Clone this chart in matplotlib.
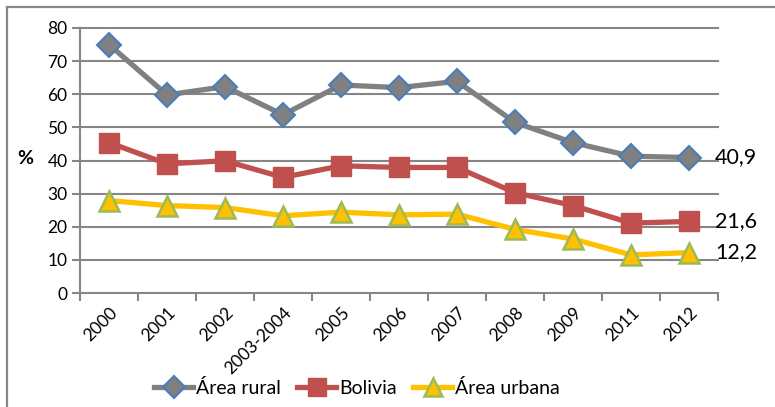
import matplotlib
matplotlib.use("Agg")
import matplotlib.pyplot as plt
from matplotlib.lines import Line2D

categories = ["2000", "2001", "2002", "2003-2004", "2005", "2006", "2007",
              "2008", "2009", "2011", "2012"]
rural = [75.0, 59.8, 62.3, 53.8, 62.8, 62.0, 63.9, 51.5, 45.4, 41.3, 40.9]
bolivia = [45.4, 39.0, 39.9, 34.9, 38.4, 37.9, 37.9, 30.3, 26.4, 21.1, 21.6]
urbana = [27.9, 26.4, 25.8, 23.3, 24.4, 23.6, 23.8, 19.2, 16.3, 11.5, 12.2]
end_labels = ["40,9", "21,6", "12,2"]
series_names = ["Área rural", "Bolivia", "Área urbana"]
y_ticks = [0, 10, 20, 30, 40, 50, 60, 70, 80]

plt.rcParams['font.family'] = ['Lato', 'DejaVu Sans']

W, H = 775, 407
fig = plt.figure(figsize=(W / 100, H / 100), dpi=100)
ax = fig.add_axes([80 / W, 1 - 293 / H, (718 - 80) / W, (293 - 28) / H])

grid_c = "#868686"
x = [i + 0.5 for i in range(len(categories))]

for yt in y_ticks[1:]:
    ax.axhline(yt, color=grid_c, lw=1.5, zorder=1, clip_on=False)

ax.plot(x, rural, color="#808080", lw=3.8, marker="D", ms=12,
        mfc="#808080", mec="#4a7ebb", mew=1.5, zorder=4, clip_on=False,
        label=series_names[0])
ax.plot(x, bolivia, color="#c0504d", lw=3.8, marker="s", ms=15,
        mfc="#c0504d", mec="#c0504d", mew=1, zorder=4, clip_on=False,
        label=series_names[1])
ax.plot(x, urbana, color="#ffc000", lw=3.8, marker="^", ms=14,
        mfc="#ffc000", mec="#9bbb59", mew=1.8, zorder=4, clip_on=False,
        label=series_names[2])

ax.set_xlim(0, len(categories))
ax.set_ylim(0, 80)
ax.set_yticks(y_ticks)
ax.set_yticklabels([str(v) for v in y_ticks], fontsize=12.5)
ax.set_xticks(x)
ax.set_xticklabels(categories, rotation=45, ha="right", rotation_mode="anchor",
                   fontsize=12.5)
ax.tick_params(axis="x", which="major", length=0, pad=8)
ax.set_xticks(range(len(categories) + 1), minor=True)
ax.tick_params(axis="x", which="minor", length=6, width=1.5, color=grid_c)
ax.tick_params(axis="y", length=6, width=1.5, color=grid_c, pad=3)

for s in ["top", "right"]:
    ax.spines[s].set_visible(False)
for s in ["left", "bottom"]:
    ax.spines[s].set_color(grid_c)
    ax.spines[s].set_linewidth(1.5)

ends = [rural[-1], bolivia[-1], urbana[-1]]
for val, lab in zip(ends, end_labels):
    ax.annotate(lab, xy=(x[-1], val), xytext=(715, 0),
                textcoords=("figure pixels", "offset points"),
                fontsize=15.5, va="center", ha="left", annotation_clip=False)

fig.text(25 / W, 1 - 158 / H, "%", fontsize=14, fontweight="bold", ha="center", va="center")

# frame
fig.add_artist(Line2D([7 / W, 1], [1 - 7 / H, 1 - 7 / H], color="#888888", lw=1.6,
                      transform=fig.transFigure))
fig.add_artist(Line2D([7 / W, 7 / W], [0, 1 - 7 / H], color="#888888", lw=1.6,
                      transform=fig.transFigure))

leg = fig.legend(loc="center", bbox_to_anchor=(357 / W, 1 - 388 / H), ncol=3,
                 frameon=False, fontsize=14, handlelength=2.0, handletextpad=0.15,
                 columnspacing=0.85, markerscale=0.9)

fig.savefig("out.png", dpi=100)
